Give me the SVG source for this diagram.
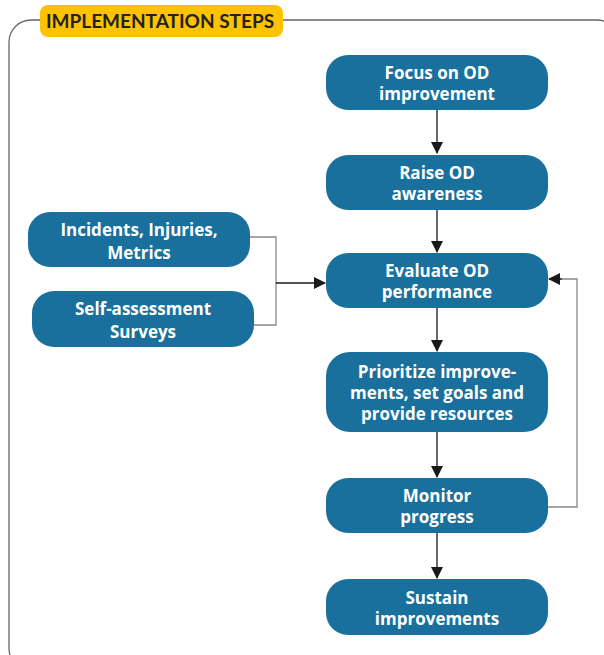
<svg xmlns="http://www.w3.org/2000/svg" width="604" height="655" viewBox="0 0 604 655">
<style>
.node{fill:#19709c;}
.t{font-family:"Open Sans","Liberation Sans",sans-serif;font-weight:700;font-size:17px;fill:#fff;text-anchor:middle;}
.c{fill:none;stroke:#1a1a1a;stroke-width:1.3;}
.g{fill:none;stroke:#888;stroke-width:1.3;}
</style>
<defs>
<marker id="ah" markerWidth="12" markerHeight="12" refX="11" refY="6" orient="auto" markerUnits="userSpaceOnUse">
<path d="M0,0 L12,6 L0,12 Z" fill="#1a1a1a"/>
</marker>
</defs>
<rect x="9" y="20" width="610" height="650" rx="22" fill="none" stroke="#666" stroke-width="1.3"/>
<g id="title">
<rect x="40" y="5" width="243" height="32" rx="8" fill="#fdc200"/>
<text x="160" y="28" style="font-family:Lato,'Liberation Sans',sans-serif;font-weight:700;font-size:19px;fill:#222;text-anchor:middle">IMPLEMENTATION STEPS</text>
</g>
<g id="connectors">
<path class="c" d="M437,110 V153" marker-end="url(#ah)"/>
<path class="c" d="M437,210 V252" marker-end="url(#ah)"/>
<path class="c" d="M437,308 V351" marker-end="url(#ah)"/>
<path class="c" d="M437,432 V477" marker-end="url(#ah)"/>
<path class="c" d="M437,533 V578" marker-end="url(#ah)"/>
<path class="g" d="M250,237 H276 V325 H254"/>
<path class="c" d="M276,283 H325" marker-end="url(#ah)"/>
<path class="g" d="M548,507 H577 V279 H560"/>
<path class="c" d="M562,279 H549" marker-end="url(#ah)"/>
</g>
<g id="n1"><rect class="node" x="326" y="55" width="222" height="55" rx="22"/><text class="t" x="437" y="79">Focus on OD</text><text class="t" x="437" y="100">improvement</text></g>
<g id="n2"><rect class="node" x="326" y="155" width="222" height="55" rx="22"/><text class="t" x="437" y="179">Raise OD</text><text class="t" x="437" y="200">awareness</text></g>
<g id="n3"><rect class="node" x="326" y="253" width="222" height="55" rx="22"/><text class="t" x="437" y="277">Evaluate OD</text><text class="t" x="437" y="298">performance</text></g>
<g id="n4"><rect class="node" x="326" y="352" width="222" height="80" rx="24"/><text class="t" x="437" y="378">Prioritize improve-</text><text class="t" x="437" y="399">ments, set goals and</text><text class="t" x="437" y="420">provide resources</text></g>
<g id="n5"><rect class="node" x="326" y="478" width="222" height="55" rx="22"/><text class="t" x="437" y="502">Monitor</text><text class="t" x="437" y="523">progress</text></g>
<g id="n6"><rect class="node" x="326" y="579" width="222" height="56" rx="22"/><text class="t" x="437" y="604">Sustain</text><text class="t" x="437" y="625">improvements</text></g>
<g id="n7"><rect class="node" x="28" y="212" width="222" height="55" rx="22"/><text class="t" x="139" y="236">Incidents, Injuries,</text><text class="t" x="139" y="259">Metrics</text></g>
<g id="n8"><rect class="node" x="32" y="291" width="222" height="56" rx="22"/><text class="t" x="143" y="315">Self-assessment</text><text class="t" x="143" y="338">Surveys</text></g>
</svg>
